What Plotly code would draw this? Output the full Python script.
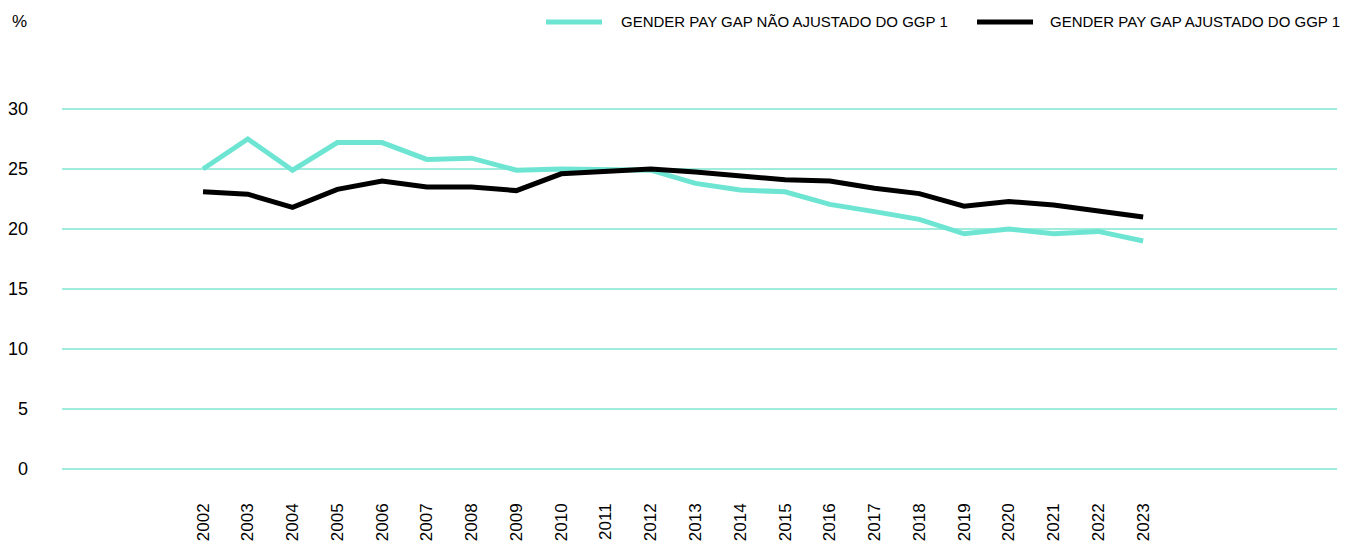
import plotly.graph_objects as go

years = list(range(2002, 2024))
unadjusted = [25.0, 27.5, 24.9, 27.2, 27.2, 25.8, 25.9, 24.9, 25.0, 25.0, 24.9,
              23.8, 23.25, 23.1, 22.05, 21.45, 20.8, 19.6, 20.0, 19.6, 19.8, 19.0]
adjusted = [23.1, 22.9, 21.8, 23.3, 24.0, 23.5, 23.5, 23.2, 24.6, 24.85, 25.0,
            24.75, 24.45, 24.1, 24.0, 23.4, 22.95, 21.9, 22.3, 22.0, 21.5, 21.0]
name_unadj = "GENDER PAY GAP NÃO AJUSTADO DO GGP 1"
name_adj = "GENDER PAY GAP AJUSTADO DO GGP 1"
y_ticks = [0, 5, 10, 15, 20, 25, 30]

TEAL = "#6ee5d2"
GRID = "#a0ecdc"
FONT = "Liberation Sans, Arial, sans-serif"

W, H = 1351, 546
L, R, T, B = 62, 14, 106, 74
PW, PH = W - L - R, H - T - B


def px(x):
    return (x - L) / PW


def py(y):
    return (H - B - y) / PH


fig = go.Figure()
fig.add_trace(go.Scatter(x=years, y=unadjusted, mode="lines", name=name_unadj,
                         line=dict(color=TEAL, width=5), showlegend=False))
fig.add_trace(go.Scatter(x=years, y=adjusted, mode="lines", name=name_adj,
                         line=dict(color="#000000", width=5), showlegend=False))

# custom legend
legend_items = [(name_unadj, TEAL, 546, 602, 619), (name_adj, "#000000", 977, 1033, 1048)]
for name, color, x0, x1, xt in legend_items:
    fig.add_shape(type="line", xref="paper", yref="paper", x0=px(x0), x1=px(x1),
                  y0=py(22), y1=py(22), line=dict(color=color, width=5))
    fig.add_annotation(text=name, xref="paper", yref="paper", x=px(xt), y=py(22),
                       xanchor="left", yanchor="middle", showarrow=False,
                       font=dict(family=FONT, size=15, color="#000000"))

fig.add_annotation(text="%", xref="paper", yref="paper", x=px(19), y=py(22),
                   xanchor="center", yanchor="middle", showarrow=False,
                   font=dict(family=FONT, size=17))

fig.update_layout(
    width=W, height=H,
    margin=dict(l=L, r=R, t=T, b=B),
    paper_bgcolor="white", plot_bgcolor="white",
    font=dict(family=FONT, size=17, color="#000000"),
    showlegend=False,
    xaxis=dict(range=[1998.85, 2027.33], tickmode="array", tickvals=years,
               ticktext=[str(y) for y in years], tickangle=-90,
               showgrid=False, zeroline=False, showline=False, automargin=False,
               ticklabelstandoff=27, tickfont=dict(size=17)),
    yaxis=dict(range=[-0.25, 30.25], tickmode="array", tickvals=y_ticks,
               showgrid=True, gridcolor=GRID, gridwidth=1.5, zeroline=False,
               showline=False, automargin=False, ticklabelstandoff=33,
               tickfont=dict(size=18)),
)

fig.write_html("out.html", config={"displayModeBar": False},
               post_script="document.body.style.margin='0px';document.body.style.overflow='hidden';")
